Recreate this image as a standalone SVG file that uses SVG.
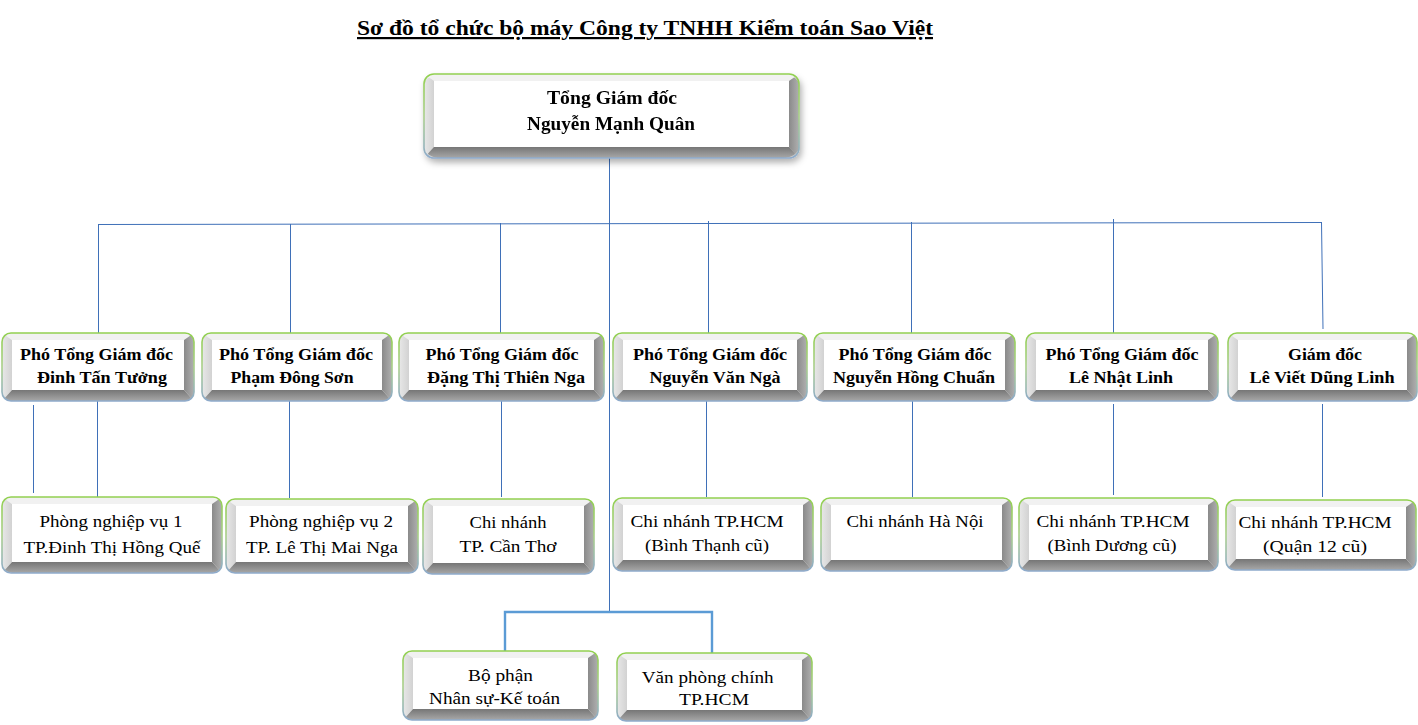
<svg xmlns="http://www.w3.org/2000/svg" width="1418" height="725" viewBox="0 0 1418 725">
<defs>
<style>
.bt{fill:#f1f1f1}
.bl{fill:url(#gl)}
.br{fill:url(#gr)}
.bb{fill:url(#gb)}
.in{fill:#ffffff}
.edge{fill:none;stroke:url(#ge);stroke-width:1.6}
.c{fill:none;stroke:#3f70b8;stroke-width:1}
.c2{fill:none;stroke:#5b9bd5;stroke-width:2.4}
text{font-family:"Liberation Serif","Times New Roman",serif;fill:#000;text-anchor:middle}
.b{font-weight:bold;font-size:17px}
.r{font-size:17px}
.tb{font-weight:bold;font-size:18px}
.title{font-weight:bold;font-size:22px;text-anchor:start;text-decoration:underline}
</style>
<linearGradient id="gl" x1="0" y1="0" x2="1" y2="0"><stop offset="0" stop-color="#e8e8e8"/><stop offset="1" stop-color="#d2d2d2"/></linearGradient>
<linearGradient id="gr" x1="0" y1="0" x2="1" y2="0"><stop offset="0" stop-color="#8a8a8a"/><stop offset="1" stop-color="#b0b0b0"/></linearGradient>
<linearGradient id="gb" x1="0" y1="0" x2="0" y2="1"><stop offset="0" stop-color="#767676"/><stop offset="1" stop-color="#a8a8a8"/></linearGradient>
<linearGradient id="ge" x1="0" y1="0" x2="0" y2="1"><stop offset="0" stop-color="#92d050"/><stop offset="0.5" stop-color="#a9cf8a"/><stop offset="1" stop-color="#8eaacb"/></linearGradient>
<clipPath id="rc" clipPathUnits="objectBoundingBox"><rect width="1" height="1" rx="0.045" ry="0.13"/></clipPath>
<filter id="sh" x="-5%" y="-10%" width="115%" height="135%"><feDropShadow dx="2" dy="4" stdDeviation="3" flood-color="#000" flood-opacity="0.3"/></filter>
</defs>
<rect width="1418" height="725" fill="#ffffff"/>
<text class="title" x="357" y="35" textLength="576" lengthAdjust="spacingAndGlyphs">Sơ đồ tổ chức bộ máy Công ty TNHH Kiểm toán Sao Việt</text>

<g id="connectors">
<path class="c" d="M609.5 158V612"/>
<path class="c" d="M98 224.5L1321 222.5"/>
<path class="c" d="M98.5 224V333M290.5 224V333M500.5 223V333M708.5 221V333M911.5 222V333M1113.5 219V333M1321.5 222L1323 329"/>
<path class="c" d="M33.5 405V493M97.5 401V498M289.5 401V498M501.5 401V497M706.5 401V497M912.5 401V497M1113.5 404V495M1322.5 404V497"/>
<path class="c2" d="M505 651V612H712V653"/>
</g>

<g id="n-tgd" transform="translate(424,74)" filter="url(#sh)">
<g clip-path="url(#rc)"><path class="bt" d="M0 0H375L365 7H10Z"/><path class="bl" d="M0 0L10 7V73L0 84Z"/><path class="br" d="M375 0V84L365 73V7Z"/><path class="bb" d="M0 84L10 73H365L375 84Z"/><rect class="in" x="10" y="7" width="355" height="66"/></g>
<rect class="edge" width="375" height="84" rx="10"/>
<text class="tb" x="188" y="30" textLength="130" lengthAdjust="spacingAndGlyphs">Tổng Giám đốc</text>
<text class="tb" x="187" y="55.5" textLength="168" lengthAdjust="spacingAndGlyphs">Nguyễn Mạnh Quân</text>
</g>

<g id="n-ptgd1" transform="translate(2,333)">
<g clip-path="url(#rc)"><path class="bt" d="M0 0H192L182 7H10Z"/><path class="bl" d="M0 0L10 7V57L0 68Z"/><path class="br" d="M192 0V68L182 57V7Z"/><path class="bb" d="M0 68L10 57H182L192 68Z"/><rect class="in" x="10" y="7" width="172" height="50"/></g>
<rect class="edge" width="192" height="68" rx="9"/>
<text class="b" x="94.5" y="27" textLength="153" lengthAdjust="spacingAndGlyphs">Phó Tổng Giám đốc</text>
<text class="b" x="100" y="50" textLength="130" lengthAdjust="spacingAndGlyphs">Đinh Tấn Tưởng</text>
</g>

<g id="n-ptgd2" transform="translate(202,333)">
<g clip-path="url(#rc)"><path class="bt" d="M0 0H190L180 7H10Z"/><path class="bl" d="M0 0L10 7V57L0 68Z"/><path class="br" d="M190 0V68L180 57V7Z"/><path class="bb" d="M0 68L10 57H180L190 68Z"/><rect class="in" x="10" y="7" width="170" height="50"/></g>
<rect class="edge" width="190" height="68" rx="9"/>
<text class="b" x="94" y="27" textLength="154" lengthAdjust="spacingAndGlyphs">Phó Tổng Giám đốc</text>
<text class="b" x="90" y="50" textLength="123" lengthAdjust="spacingAndGlyphs">Phạm Đông Sơn</text>
</g>

<g id="n-ptgd3" transform="translate(399,333)">
<g clip-path="url(#rc)"><path class="bt" d="M0 0H205L195 7H10Z"/><path class="bl" d="M0 0L10 7V57L0 68Z"/><path class="br" d="M205 0V68L195 57V7Z"/><path class="bb" d="M0 68L10 57H195L205 68Z"/><rect class="in" x="10" y="7" width="185" height="50"/></g>
<rect class="edge" width="205" height="68" rx="9"/>
<text class="b" x="103" y="27" textLength="153" lengthAdjust="spacingAndGlyphs">Phó Tổng Giám đốc</text>
<text class="b" x="107" y="50" textLength="158" lengthAdjust="spacingAndGlyphs">Đặng Thị Thiên Nga</text>
</g>

<g id="n-ptgd4" transform="translate(613,333)">
<g clip-path="url(#rc)"><path class="bt" d="M0 0H194L184 7H10Z"/><path class="bl" d="M0 0L10 7V57L0 68Z"/><path class="br" d="M194 0V68L184 57V7Z"/><path class="bb" d="M0 68L10 57H184L194 68Z"/><rect class="in" x="10" y="7" width="174" height="50"/></g>
<rect class="edge" width="194" height="68" rx="9"/>
<text class="b" x="97" y="27" textLength="154" lengthAdjust="spacingAndGlyphs">Phó Tổng Giám đốc</text>
<text class="b" x="102" y="50" textLength="131" lengthAdjust="spacingAndGlyphs">Nguyễn Văn Ngà</text>
</g>

<g id="n-ptgd5" transform="translate(814,333)">
<g clip-path="url(#rc)"><path class="bt" d="M0 0H201L191 7H10Z"/><path class="bl" d="M0 0L10 7V57L0 68Z"/><path class="br" d="M201 0V68L191 57V7Z"/><path class="bb" d="M0 68L10 57H191L201 68Z"/><rect class="in" x="10" y="7" width="181" height="50"/></g>
<rect class="edge" width="201" height="68" rx="9"/>
<text class="b" x="101" y="27" textLength="153" lengthAdjust="spacingAndGlyphs">Phó Tổng Giám đốc</text>
<text class="b" x="100" y="50" textLength="162" lengthAdjust="spacingAndGlyphs">Nguyễn Hồng Chuẩn</text>
</g>

<g id="n-ptgd6" transform="translate(1026,333)">
<g clip-path="url(#rc)"><path class="bt" d="M0 0H192L182 7H10Z"/><path class="bl" d="M0 0L10 7V57L0 68Z"/><path class="br" d="M192 0V68L182 57V7Z"/><path class="bb" d="M0 68L10 57H182L192 68Z"/><rect class="in" x="10" y="7" width="172" height="50"/></g>
<rect class="edge" width="192" height="68" rx="9"/>
<text class="b" x="96" y="27" textLength="153" lengthAdjust="spacingAndGlyphs">Phó Tổng Giám đốc</text>
<text class="b" x="95" y="50" textLength="104" lengthAdjust="spacingAndGlyphs">Lê Nhật Linh</text>
</g>

<g id="n-gd" transform="translate(1228,333)">
<g clip-path="url(#rc)"><path class="bt" d="M0 0H189L179 7H10Z"/><path class="bl" d="M0 0L10 7V57L0 68Z"/><path class="br" d="M189 0V68L179 57V7Z"/><path class="bb" d="M0 68L10 57H179L189 68Z"/><rect class="in" x="10" y="7" width="169" height="50"/></g>
<rect class="edge" width="189" height="68" rx="9"/>
<text class="b" x="97" y="27" textLength="74" lengthAdjust="spacingAndGlyphs">Giám đốc</text>
<text class="b" x="94" y="50" textLength="145" lengthAdjust="spacingAndGlyphs">Lê Viết Dũng Linh</text>
</g>

<g id="n-pnv1" transform="translate(2,497)">
<g clip-path="url(#rc)"><path class="bt" d="M0 0H220L210 7H10Z"/><path class="bl" d="M0 0L10 7V65L0 76Z"/><path class="br" d="M220 0V76L210 65V7Z"/><path class="bb" d="M0 76L10 65H210L220 76Z"/><rect class="in" x="10" y="7" width="200" height="58"/></g>
<rect class="edge" width="220" height="76" rx="9"/>
<text class="r" x="109" y="30" textLength="143" lengthAdjust="spacingAndGlyphs">Phòng nghiệp vụ 1</text>
<text class="r" x="110" y="56" textLength="177" lengthAdjust="spacingAndGlyphs">TP.Đinh Thị Hồng Quế</text>
</g>

<g id="n-pnv2" transform="translate(226,499)">
<g clip-path="url(#rc)"><path class="bt" d="M0 0H192L182 7H10Z"/><path class="bl" d="M0 0L10 7V63L0 74Z"/><path class="br" d="M192 0V74L182 63V7Z"/><path class="bb" d="M0 74L10 63H182L192 74Z"/><rect class="in" x="10" y="7" width="172" height="56"/></g>
<rect class="edge" width="192" height="74" rx="9"/>
<text class="r" x="95" y="28" textLength="144" lengthAdjust="spacingAndGlyphs">Phòng nghiệp vụ 2</text>
<text class="r" x="96" y="54" textLength="152" lengthAdjust="spacingAndGlyphs">TP. Lê Thị Mai Nga</text>
</g>

<g id="n-cn-ct" transform="translate(423,499)">
<g clip-path="url(#rc)"><path class="bt" d="M0 0H171L161 7H10Z"/><path class="bl" d="M0 0L10 7V64L0 75Z"/><path class="br" d="M171 0V75L161 64V7Z"/><path class="bb" d="M0 75L10 64H161L171 75Z"/><rect class="in" x="10" y="7" width="151" height="57"/></g>
<rect class="edge" width="171" height="75" rx="9"/>
<text class="r" x="85" y="29" textLength="77" lengthAdjust="spacingAndGlyphs">Chi nhánh</text>
<text class="r" x="85" y="53" textLength="97" lengthAdjust="spacingAndGlyphs">TP. Cần Thơ</text>
</g>

<g id="n-cn-bt" transform="translate(613,498)">
<g clip-path="url(#rc)"><path class="bt" d="M0 0H200L190 7H10Z"/><path class="bl" d="M0 0L10 7V62L0 73Z"/><path class="br" d="M200 0V73L190 62V7Z"/><path class="bb" d="M0 73L10 62H190L200 73Z"/><rect class="in" x="10" y="7" width="180" height="55"/></g>
<rect class="edge" width="200" height="73" rx="9"/>
<text class="r" x="94" y="29" textLength="153" lengthAdjust="spacingAndGlyphs">Chi nhánh TP.HCM</text>
<text class="r" x="94" y="53" textLength="124" lengthAdjust="spacingAndGlyphs">(Bình Thạnh cũ)</text>
</g>

<g id="n-cn-hn" transform="translate(821,498)">
<g clip-path="url(#rc)"><path class="bt" d="M0 0H191L181 7H10Z"/><path class="bl" d="M0 0L10 7V62L0 73Z"/><path class="br" d="M191 0V73L181 62V7Z"/><path class="bb" d="M0 73L10 62H181L191 73Z"/><rect class="in" x="10" y="7" width="171" height="55"/></g>
<rect class="edge" width="191" height="73" rx="9"/>
<text class="r" x="94" y="29" textLength="137" lengthAdjust="spacingAndGlyphs">Chi nhánh Hà Nội</text>
</g>

<g id="n-cn-bd" transform="translate(1019,498)">
<g clip-path="url(#rc)"><path class="bt" d="M0 0H199L189 7H10Z"/><path class="bl" d="M0 0L10 7V62L0 73Z"/><path class="br" d="M199 0V73L189 62V7Z"/><path class="bb" d="M0 73L10 62H189L199 73Z"/><rect class="in" x="10" y="7" width="179" height="55"/></g>
<rect class="edge" width="199" height="73" rx="9"/>
<text class="r" x="94" y="29" textLength="153" lengthAdjust="spacingAndGlyphs">Chi nhánh TP.HCM</text>
<text class="r" x="93" y="53" textLength="129" lengthAdjust="spacingAndGlyphs">(Bình Dương cũ)</text>
</g>

<g id="n-cn-q12" transform="translate(1226,500)">
<g clip-path="url(#rc)"><path class="bt" d="M0 0H190L180 7H10Z"/><path class="bl" d="M0 0L10 7V59L0 70Z"/><path class="br" d="M190 0V70L180 59V7Z"/><path class="bb" d="M0 70L10 59H180L190 70Z"/><rect class="in" x="10" y="7" width="170" height="52"/></g>
<rect class="edge" width="190" height="70" rx="9"/>
<text class="r" x="89" y="28" textLength="153" lengthAdjust="spacingAndGlyphs">Chi nhánh TP.HCM</text>
<text class="r" x="89" y="52" textLength="104" lengthAdjust="spacingAndGlyphs">(Quận 12 cũ)</text>
</g>

<g id="n-nskt" transform="translate(403,651)">
<g clip-path="url(#rc)"><path class="bt" d="M0 0H195L185 7H10Z"/><path class="bl" d="M0 0L10 7V58L0 69Z"/><path class="br" d="M195 0V69L185 58V7Z"/><path class="bb" d="M0 69L10 58H185L195 69Z"/><rect class="in" x="10" y="7" width="175" height="51"/></g>
<rect class="edge" width="195" height="69" rx="9"/>
<text class="r" x="97.5" y="30" textLength="65" lengthAdjust="spacingAndGlyphs">Bộ phận</text>
<text class="r" x="91.6" y="52.5" textLength="131" lengthAdjust="spacingAndGlyphs">Nhân sự-Kế toán</text>
</g>

<g id="n-vpc" transform="translate(617,653)">
<g clip-path="url(#rc)"><path class="bt" d="M0 0H195L185 7H10Z"/><path class="bl" d="M0 0L10 7V57L0 68Z"/><path class="br" d="M195 0V68L185 57V7Z"/><path class="bb" d="M0 68L10 57H185L195 68Z"/><rect class="in" x="10" y="7" width="175" height="50"/></g>
<rect class="edge" width="195" height="68" rx="9"/>
<text class="r" x="90.7" y="30" textLength="132" lengthAdjust="spacingAndGlyphs">Văn phòng chính</text>
<text class="r" x="97" y="52" textLength="70" lengthAdjust="spacingAndGlyphs">TP.HCM</text>
</g>
</svg>
